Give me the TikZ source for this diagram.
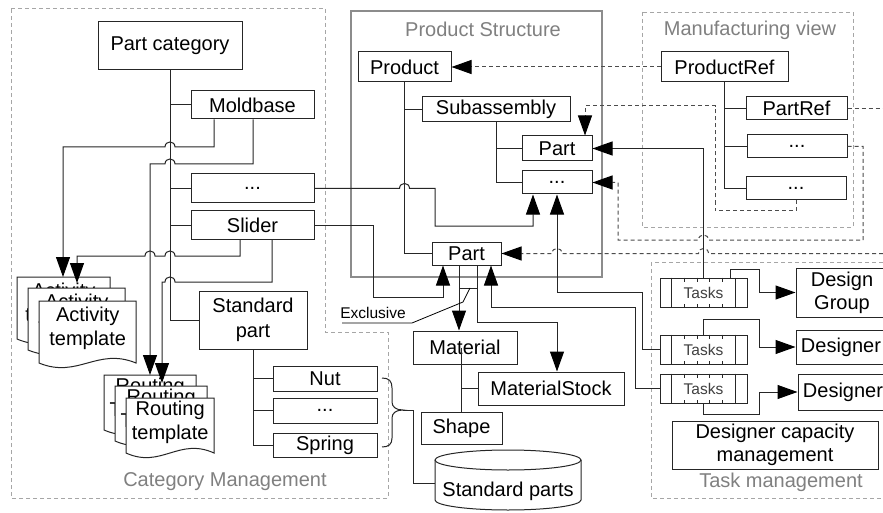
\documentclass[tikz,border=0pt]{standalone}
\usepackage{fontspec}
\setmainfont{Liberation Sans}
\usetikzlibrary{arrows.meta}

\newcommand\jumpR[2]{-- ({#1-5},#2) .. controls ({#1-5},{#2-6.7}) and ({#1+5},{#2-6.7}) .. ({#1+5},#2)}
\newcommand\jumpL[2]{-- ({#1+5},#2) .. controls ({#1+5},{#2-6.7}) and ({#1-5},{#2-6.7}) .. ({#1-5},#2)}

\newcommand\docshape[7]{%
  \filldraw[ln, fill=white] (#2,#3) -- ({#2+#4},#3) -- ({#2+#4},{#3+#5}) .. controls ({#2+0.6*#4},{#3+#5-16}) and ({#2+0.4*#4},{#3+#5+16}) .. (#2,{#3+#5}) -- cycle;
  \node[inner sep=0pt, minimum width=#4pt, minimum height=#5pt, anchor=north west] (#1) at (#2,#3) {};
  \node[align=center, inner sep=0pt] (#1txt) at ([yshift=#7pt]#1.center) {#6};
}

\newcommand\tasksbox[3]{%
  \node[box, minimum width=87pt, minimum height=29pt] (#1) at (#2,#3) {};
  \draw[ln] ([xshift=12pt]#1.north west) -- ([xshift=12pt]#1.south west)
            ([xshift=-12pt]#1.north east) -- ([xshift=-12pt]#1.south east);
  \foreach \tx in {25,38,50,63} {
    \draw[ln] ([xshift=\tx pt]#1.north west) -- ++(0,4) ([xshift=\tx pt]#1.south west) -- ++(0,-4);
  }
  \node[font=\fontsize{15.5}{18}\selectfont, inner sep=0pt, text=black!75] (#1txt) at (#1.center) {Tasks};
}

\begin{document}
\begin{tikzpicture}[x=1pt,y=-1pt,
  font=\fontsize{20}{24}\selectfont,
  box/.style={draw=black!85, line width=1pt, fill=white, inner sep=0pt, align=center},
  ln/.style={draw=black!85, line width=1pt},
  tip/.style={-{Triangle[length=20pt,width=14pt,color=black]}},
  arr/.style={ln, tip},
  dln/.style={draw=black!70, line width=1pt, dash pattern=on 4pt off 3pt},
  darr/.style={dln, tip},
  grp/.style={draw=black!35, line width=0.9pt, dash pattern=on 4pt off 3pt},
  lbl/.style={text=black!50, inner sep=0pt}]

\path[use as bounding box] (0,0) rectangle (883,513);
\clip (0,0) rectangle (883,513);
\fill[white] (0,0) rectangle (883,513);

% groups
\draw[grp] (11,8) -- (325,8) -- (325,332) -- (388,332) -- (388,498) -- (11,498) -- cycle;
\draw[grp] (642,12) rectangle (853,227);
\draw[grp] (651,262) rectangle (895,498);
\draw[draw=black!45, line width=1.6pt] (351,11) rectangle (602,277);
\node[lbl] (lcat) at (225,482) {Category Management};
\node[lbl] (lps) at (483,29) {Product Structure};
\node[lbl] (lmv) at (750,30) {Manufacturing view};
\node[lbl] (ltm) at (781,482) {Task management};

% documents
\docshape{act1}{17}{277}{93}{62}{Activity\\template}{4}
\docshape{act2}{28}{288}{97}{62}{Activity\\template}{4}
\docshape{act3}{39}{301}{97}{62}{Activity\\template}{4}
\docshape{rt1}{104}{375}{92}{55}{Routing\\Template}{3.5}
\docshape{rt2}{115}{386}{92}{55}{Routing\\Template}{3.5}
\docshape{rt3}{126}{398}{88}{55}{Routing\\template}{3.5}

% category nodes
\node[box, minimum width=144pt, minimum height=48pt] (pcat) at (170,46) {Part category};
\node[box, minimum width=123pt, minimum height=28pt] (mold) at (252.5,105) {Moldbase};
\node[box, minimum width=123pt, minimum height=29pt] (cdots) at (252.5,188.5) {...};
\node[box, minimum width=123pt, minimum height=28pt] (slider) at (252.5,225) {Slider};
\node[box, minimum width=108pt, minimum height=58pt, font=\fontsize{20}{25}\selectfont] (stdp) at (253,320) {Standard\\part};
\node[box, minimum width=104pt, minimum height=25pt] (nut) at (325,378.5) {Nut};
\node[box, minimum width=104pt, minimum height=25pt] (sdots) at (325,410.5) {...};
\node[box, minimum width=104pt, minimum height=24pt] (spring) at (325,445) {Spring};

% product structure nodes
\node[box, minimum width=93pt, minimum height=30pt] (prod) at (404.5,67) {Product};
\node[box, minimum width=148pt, minimum height=25pt] (subA) at (496,109.5) {Subassembly};
\node[box, minimum width=70pt, minimum height=25pt] (pup) at (557,148.5) {Part};
\node[box, minimum width=70pt, minimum height=23pt] (psdots) at (557,182.5) {...};
\node[box, minimum width=69pt, minimum height=23pt] (plow) at (466.5,253.5) {Part};

% manufacturing view nodes
\node[box, minimum width=127pt, minimum height=30pt] (pref) at (724.5,67) {ProductRef};
\node[box, minimum width=101pt, minimum height=23pt] (partref) at (796.5,108.5) {PartRef};
\node[box, minimum width=100pt, minimum height=23pt] (ref2) at (797,146.5) {...};
\node[box, minimum width=100pt, minimum height=23pt] (ref3) at (796,188.5) {...};

% material nodes
\node[box, minimum width=104pt, minimum height=33pt] (mat) at (465,347.5) {Material};
\node[box, minimum width=146pt, minimum height=33pt] (mstock) at (551,388.5) {MaterialStock};
\node[box, minimum width=81pt, minimum height=32pt] (shape) at (461.5,428) {Shape};

% cylinder
\filldraw[ln, fill=white] (435,460) -- (435,500) .. controls (435,505.5) and (467.7,510) .. (508,510) .. controls (548.3,510) and (581,505.5) .. (581,500) -- (581,460);
\filldraw[ln, fill=white] (435,460) .. controls (435,454.5) and (467.7,450) .. (508,450) .. controls (548.3,450) and (581,454.5) .. (581,460) .. controls (581,465.5) and (548.3,470) .. (508,470) .. controls (467.7,470) and (435,465.5) .. (435,460) -- cycle;
\node[inner sep=0pt, minimum width=146pt, minimum height=60pt] (sp) at (508,480) {};
\node[inner sep=0pt] (sptxt) at (508,491) {Standard parts};

% task nodes
\tasksbox{t1}{703.5}{292.5}
\tasksbox{t2}{703.5}{349.5}
\tasksbox{t3}{703.5}{388.5}
\node[box, minimum width=92pt, minimum height=49pt, font=\fontsize{20}{23}\selectfont] (dg) at (842,292.5) {Design\\Group};
\node[box, minimum width=90pt, minimum height=34pt] (des1) at (841,347) {Designer};
\node[box, minimum width=90pt, minimum height=36pt] (des2) at (843,392) {Designer};
\node[box, minimum width=206pt, minimum height=48pt, font=\fontsize{20}{23}\selectfont] (dcm) at (775,445) {Designer capacity\\management};

% exclusive
\node[inner sep=0pt, font=\fontsize{15.5}{18}\selectfont] (excl) at (373,313) {Exclusive};

% ---------- connectors ----------
% category tree
\draw[ln] (pcat.south) -- (pcat.south |- stdp.west) -- (stdp.west);
\draw[ln] (pcat.south |- mold.west) -- (mold.west);
\draw[ln] (pcat.south |- cdots.west) -- (cdots.west);
\draw[ln] (pcat.south |- slider.west) -- (slider.west);

% to templates
\draw[arr] (214,0 |- mold.south) -- (214,147) \jumpL{170}{147} -- (63,147) -- (63,0 |- act1.north);
\draw[arr] (253,0 |- mold.south) -- (253,164) \jumpL{170}{164} -- (150,164) -- (150,0 |- rt1.north);
\draw[arr, shorten >=5pt] (240,0 |- slider.south) -- (240,256) \jumpL{170}{256} \jumpL{150}{256} -- (77,256) -- (77,0 |- act2.north);
\draw[arr, shorten >=3pt] (272,0 |- slider.south) -- (272,282) \jumpL{170}{282} -- (162,282) -- (162,0 |- rt2.north);

% category to product structure
\draw[arr] (cdots.east) \jumpR{404.5}{188.5} -- (435,188.5) -- (435,226) -- (533,226) -- (533,0 |- psdots.south);
\draw[arr] (slider.east) -- (373,225) -- (373,297) -- (443,297) -- (443,0 |- plow.south);

% product tree
\draw[ln] (prod.south) -- (prod.south |- plow.west) -- (plow.west);
\draw[ln] (prod.south |- subA.west) -- (subA.west);
\draw[ln] (subA.south) -- (subA.south |- psdots.west) -- (psdots.west);
\draw[ln] (subA.south |- pup.west) -- (pup.west);

% product ref tree
\draw[ln] (pref.south) -- (pref.south |- ref3.west) -- (ref3.west);
\draw[ln] (pref.south |- partref.west) -- (partref.west);
\draw[ln] (pref.south |- ref2.west) -- (ref2.west);

% dashed references
\draw[darr] (pref.west) -- (prod.east);
\draw[darr] (796,0 |- ref3.south) -- (796,211) -- (715,211) -- (715,106) -- (585,106) -- (585,0 |- pup.north);
\draw[darr] (ref2.east) -- (863,146.5) -- (863,240) \jumpL{703.5}{240} -- (618,240) -- (618,182.5) -- (psdots.east);
\draw[dln] (partref.east) -- (890,108.5);
\draw[darr] (890,253.5) \jumpL{703.5}{253.5} \jumpL{557}{253.5} -- (plow.east);

% tasks links
\draw[arr] (t1.north) -- (t1.north |- pup.east) -- (pup.east);
\draw[arr] (t2.west) -- (642,349.5) -- (642,292) -- (557,292) -- (psdots.south);
\draw[arr] (t3.west) -- (635,388.5) -- (635,307) -- (491,307) -- (491,0 |- plow.south);
\draw[arr] (730,0 |- t1.north) -- (730,269) -- (759,269) -- (759,0 |- dg.west) -- (dg.west);
\draw[arr] (t2.north) -- (703.5,319) -- (759,319) -- (759,0 |- des1.west) -- (des1.west);
\draw[arr] (t3.south) -- (703.5,414) -- (759,414) -- (759,0 |- des2.west) -- (des2.west);

% part to material
\draw[arr] (459,0 |- plow.south) -- (459,0 |- mat.north);
\draw[arr] (477,0 |- plow.south) -- (477,322) -- (557,322) -- (557,0 |- mstock.north);
\draw[ln] (459,288) -- (477,288);
\draw[line width=0.8pt] (470,288) -- (463,302) -- (412,323) -- (342,323);

% material tree
\draw[ln] (shape.north |- mat.center) -- (shape.north);
\draw[ln] (shape.north |- mstock.west) -- (mstock.west);

% standard part tree
\draw[ln] (stdp.south) -- (stdp.south |- spring.west) -- (spring.west);
\draw[ln] (stdp.south |- nut.west) -- (nut.west);
\draw[ln] (stdp.south |- sdots.west) -- (sdots.west);
\draw[ln] (382,378) .. controls (389,378) and (392,381) .. (392,388) -- (392,402) .. controls (392,407) and (396,410) .. (403,410) .. controls (396,410) and (392,413) .. (392,418) -- (392,438) .. controls (392,444) and (389,447) .. (382,447);
\draw[ln] (403,410) -- (413,410) -- (413,483) -- (sp.west |- 0,483);

\end{tikzpicture}
\end{document}
